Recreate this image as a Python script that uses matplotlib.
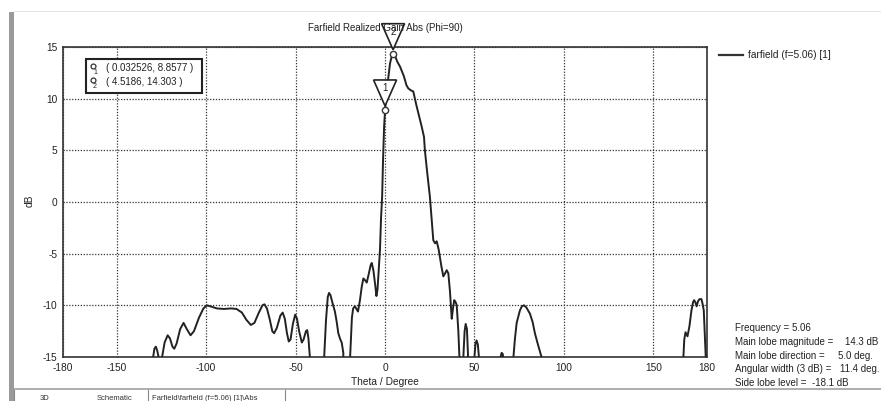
import numpy as np
import matplotlib
matplotlib.use("Agg")
import matplotlib.pyplot as plt
from matplotlib.patches import Polygon, Rectangle
from matplotlib.lines import Line2D
import matplotlib.transforms as mtransforms

plt.rcParams['font.family'] = ['Liberation Sans', 'DejaVu Sans']
plt.rcParams['axes.unicode_minus'] = False

# ---------------- data ----------------
theta = [-180, -130.2, -129.6, -128.9, -128.1, -127.3, -126.2, -125.3, -124.6, -123.2,
         -121.5, -120.2, -118.8, -117.8, -116.5, -114.5, -112.6, -110.8, -108.7, -106.8,
         -104.0, -101.5, -99.6, -97.5, -94.0, -90.0, -86.0, -83.0, -80.0, -77.5,
         -75.0, -73.0, -70.5, -68.5, -67.4, -66.0, -64.5, -63.0, -62.0, -60.5,
         -58.5, -57.2, -56.0, -54.8, -53.8, -52.8, -51.5, -50.2, -49.2, -48.0,
         -46.5, -45.5, -44.2, -43.5, -42.8, -42.0, -41.8, -34.5, -34.0, -33.0,
         -32.0, -31.3, -30.5, -29.3, -28.0, -27.0, -26.1, -25.0, -24.2, -23.3,
         -23.0, -19.8, -19.5, -18.5, -17.8, -16.8, -15.8, -15.1, -14.0, -13.0,
         -12.1, -11.0, -10.2, -9.0, -8.0, -7.4, -6.5, -5.5, -4.8, -4.2,
         -3.5, -2.8, -2.2, -1.6, -1.1, -0.5, 0.03, 0.9, 1.9, 2.8,
         3.6, 4.5, 5.5, 6.8, 8.4, 10.5, 12.0, 13.0, 14.5, 15.8,
         17.5, 19.2, 20.5, 21.8, 22.3, 23.5, 25.1, 26.0, 27.0, 28.0,
         28.9, 30.0, 31.5, 32.6, 33.6, 34.5, 35.4, 36.3, 37.3, 38.0,
         38.7, 39.5, 40.1, 41.0, 41.6, 41.8, 43.5, 43.8, 44.5, 45.1,
         45.8, 46.4, 46.6, 49.7, 50.0, 50.6, 51.2, 51.9, 52.5, 52.7,
         64.2, 64.6, 65.2, 65.8, 66.4, 66.6, 71.5, 71.8, 72.6, 73.6,
         75.4, 76.5, 77.7, 79.0, 81.0, 82.5, 83.8, 85.5, 87.5, 87.7,
         166.5, 166.8, 167.3, 168.0, 169.1, 170.2, 171.3, 172.2, 172.8, 173.5,
         174.2, 175.0, 175.8, 176.9, 177.6, 178.2, 178.8, 179.3, 179.5, 180]
gain_db = [-40, -40, -15, -14.2, -14.0, -14.4, -15.3, -16.5, -15.0, -13.6,
           -12.9, -13.2, -14.0, -14.2, -13.7, -12.3, -11.7, -12.3, -12.9, -12.5,
           -11.2, -10.3, -10.0, -10.1, -10.3, -10.35, -10.3, -10.35, -10.7, -11.4,
           -11.9, -11.7, -10.7, -10.0, -9.9, -10.3, -11.3, -12.5, -12.7, -12.2,
           -11.0, -10.7, -11.3, -12.7, -13.5, -13.3, -11.8, -10.9, -11.3, -12.5,
           -13.6, -13.3, -12.5, -12.4, -13.2, -15.0, -40, -40, -15, -11.5,
           -9.2, -8.8, -9.0, -9.8, -10.6, -11.6, -12.7, -13.3, -13.6, -14.6,
           -40, -40, -15, -11.2, -10.3, -10.1, -10.4, -10.6, -9.5, -8.2,
           -7.4, -7.6, -7.8, -6.9, -6.1, -5.9, -6.6, -8.0, -9.1, -8.5,
           -6.5, -4.6, -1.5, 0.5, 4.0, 7.3, 8.86, 10.8, 12.1, 13.4,
           14.0, 14.3, 14.2, 13.6, 13.1, 12.2, 11.3, 11.0, 10.8, 10.7,
           9.4, 8.2, 7.3, 6.3, 5.0, 3.0, 0.5, -1.5, -3.7, -4.0,
           -3.8, -4.6, -6.2, -7.2, -6.9, -6.6, -6.9, -8.6, -11.3, -10.3,
           -9.5, -9.7, -10.0, -12.5, -15.0, -40, -40, -15, -12.5, -11.8,
           -12.3, -14.8, -40, -40, -15, -13.7, -13.4, -13.8, -15, -40,
           -40, -15, -14.6, -14.7, -15.5, -40, -40, -15, -13.3, -11.7,
           -10.5, -10.1, -10.0, -10.2, -10.8, -11.6, -12.7, -13.8, -15, -40,
           -40, -15, -13.3, -12.6, -13.0, -12.0, -10.5, -9.7, -9.5, -9.7,
           -10.1, -9.6, -9.4, -9.4, -9.9, -10.5, -13, -15, -40, -40]

marker_theta = [0.032526, 4.5186]
marker_gain = [8.8577, 14.303]
marker_ids = ["1", "2"]
marker_texts = ["( 0.032526, 8.8577 )", "( 4.5186, 14.303 )"]

x_ticks = [-180, -150, -100, -50, 0, 50, 100, 150, 180]
y_ticks = [-15, -10, -5, 0, 5, 10, 15]

legend_label = "farfield (f=5.06) [1]"
title = "Farfield Realized Gain Abs (Phi=90)"
info_labels = ["Frequency = 5.06", "Main lobe magnitude =", "Main lobe direction =",
               "Angular width (3 dB) =", "Side lobe level =  -18.1 dB"]
info_values = ["", "14.3 dB", "5.0 deg.", "11.4 deg.", ""]

# ---------------- figure ----------------
W, H = 881, 401
fig = plt.figure(figsize=(W / 100, H / 100), dpi=100)
fig.patch.set_facecolor('white')

def fx(px):
    return px / W

def fy(py):
    return 1 - py / H

ax = fig.add_axes([fx(63), fy(357), fx(707 - 63), (357 - 47) / H])
ax.plot(theta, gain_db, color='#222222', lw=1.4, zorder=3, label=legend_label)
ax.set_xlim(-180, 180)
ax.set_ylim(-15, 15)
ax.set_xticks(x_ticks)
ax.set_yticks(y_ticks)
ax.grid(True, color='#333333', linestyle=(0, (1, 1.3)), linewidth=0.9)
ax.tick_params(length=0, labelsize=7.3, colors='#222222', pad=4)
for s in ax.spines.values():
    s.set_color('#333333')
    s.set_linewidth(1.2)
ax.set_xlabel("Theta / Degree", fontsize=7.3, color='#222222', labelpad=3)

fig.text(fx(30), fy(201), "dB", rotation=90, ha='center', va='center', fontsize=7.3, color='#222222')
fig.text(fx(385), fy(28), title, ha='center', va='center', fontsize=7.0, color='#222222')

# marker points
ax.plot(marker_theta, marker_gain, 'o', ms=4.5, mfc='white', mec='#333333', mew=1.0,
        zorder=5, clip_on=False)

# marker triangles
for t, g, lab in zip(marker_theta, marker_gain, marker_ids):
    tr = fig.dpi_scale_trans + mtransforms.ScaledTranslation(t, g, ax.transData)
    gap, h, w = 0.045, 0.26, 0.115
    tri = Polygon([(0, gap), (-w, gap + h), (w, gap + h)], closed=True,
                  facecolor='white', edgecolor='#222222', lw=1.2, transform=tr,
                  clip_on=False, zorder=6)
    ax.add_patch(tri)
    ax.text(0, gap + h - 0.085, lab, transform=tr, ha='center', va='center',
            fontsize=7.0, color='#222222', zorder=7, clip_on=False)

# annotation box with marker values
fig.patches.append(Rectangle((fx(86), fy(93)), fx(202 - 86), (93 - 59) / H,
                             transform=fig.transFigure, fill=True, facecolor='white',
                             edgecolor='#222222', lw=1.5, zorder=8))
for i, txt in enumerate(marker_texts):
    py = 68 + 14 * i
    fig.text(fx(106), fy(py), txt, ha='left', va='center', fontsize=7.0, color='#222222', zorder=9)
    fig.lines.append(Line2D([fx(93)], [fy(py - 2)], marker='o', ms=3.5, mfc='white',
                            mec='#333333', mew=0.9, transform=fig.transFigure, zorder=9))
    fig.text(fx(95), fy(py + 4), marker_ids[i], ha='center', va='center', fontsize=5,
             color='#222222', zorder=9)

# legend
fig.lines.append(Line2D([fx(719), fx(743)], [fy(55), fy(55)], color='#333333', lw=1.6,
                        transform=fig.transFigure))
fig.text(fx(748), fy(55), legend_label, ha='left', va='center', fontsize=7.3, color='#222222')

# info block
info_y = [328, 342, 356, 369, 383]
value_x = [0, 845, 838, 840, 0]
for lab, val, py, vx in zip(info_labels, info_values, info_y, value_x):
    fig.text(fx(735), fy(py), lab, ha='left', va='center', fontsize=7.0, color='#222222')
    if val:
        fig.text(fx(vx), fy(py), val, ha='left', va='center', fontsize=7.0, color='#222222')

# window decorations
fig.patches.append(Rectangle((fx(9), 0), fx(5), fy(12), transform=fig.transFigure,
                             facecolor='#9a9a9a', edgecolor='none'))
fig.patches.append(Rectangle((fx(14), fy(12)), fx(W - 14), 1 / H, transform=fig.transFigure,
                             facecolor='#e4e4e4', edgecolor='none'))
fig.patches.append(Rectangle((fx(14), fy(390)), fx(W - 14), 2 / H, transform=fig.transFigure,
                             facecolor='#b0b0b0', edgecolor='none'))
for x0 in [14, 148, 285]:
    fig.lines.append(Line2D([fx(x0), fx(x0)], [fy(390), fy(401)], color='#888888', lw=0.8,
                            transform=fig.transFigure))
fig.text(fx(40), fy(399), "3D", fontsize=5.5, color='#333333', va='center')
fig.text(fx(97), fy(399), "Schematic", fontsize=5.5, color='#333333', va='center')
fig.text(fx(152), fy(399), "Farfield\\farfield (f=5.06) [1]\\Abs", fontsize=5.5, color='#333333',
         va='center')

fig.savefig("out.png", dpi=100)
